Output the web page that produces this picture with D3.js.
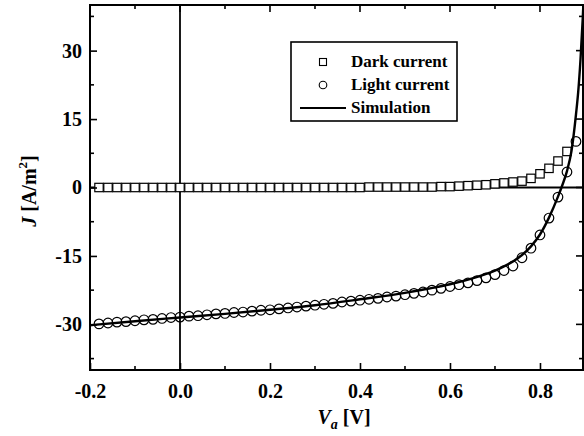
<!DOCTYPE html>
<html>
<head>
<meta charset="utf-8">
<script src="https://cdn.jsdelivr.net/npm/d3@7/dist/d3.min.js"></script>
<style>
  body { margin: 0; background: #fff; }
  text { font-family: "Liberation Serif", "Times New Roman", serif; font-weight: bold; fill: #000; }
</style>
</head>
<body>
<div id="chart"></div>
<script>
const width = 584;
const height = 436;
const margin = { top: 5, right: 1, bottom: 66, left: 90 };

// measured points, 0.02 V apart
const darkV = [-0.18, -0.16, -0.14, -0.12, -0.10, -0.08, -0.06, -0.04, -0.02, 0.00,
  0.02, 0.04, 0.06, 0.08, 0.10, 0.12, 0.14, 0.16, 0.18, 0.20,
  0.22, 0.24, 0.26, 0.28, 0.30, 0.32, 0.34, 0.36, 0.38, 0.40,
  0.42, 0.44, 0.46, 0.48, 0.50, 0.52, 0.54, 0.56, 0.58, 0.60,
  0.62, 0.64, 0.66, 0.68, 0.70, 0.72, 0.74, 0.76, 0.78, 0.80,
  0.82, 0.84, 0.86];
const darkJ = [0, 0, 0, 0, 0, 0, 0, 0, 0, 0,
  0, 0, 0, 0, 0, 0, 0, 0, 0, 0,
  0, 0, 0, 0, 0, 0, 0, 0, 0, 0,
  0.1, 0.1, 0.1, 0.1, 0.1, 0.1, 0.1, 0.1, 0.2, 0.2,
  0.3, 0.4, 0.5, 0.6, 0.8, 1.0, 1.2, 1.4, 2.0, 3.0,
  4.2, 5.8, 7.9];

const lightV = [-0.18, -0.16, -0.14, -0.12, -0.10, -0.08, -0.06, -0.04, -0.02, 0.00,
  0.02, 0.04, 0.06, 0.08, 0.10, 0.12, 0.14, 0.16, 0.18, 0.20,
  0.22, 0.24, 0.26, 0.28, 0.30, 0.32, 0.34, 0.36, 0.38, 0.40,
  0.42, 0.44, 0.46, 0.48, 0.50, 0.52, 0.54, 0.56, 0.58, 0.60,
  0.62, 0.64, 0.66, 0.68, 0.70, 0.72, 0.74, 0.76, 0.78, 0.80,
  0.82, 0.84, 0.86, 0.88];
const lightJ = [-29.9, -29.7, -29.5, -29.4, -29.2, -29.0, -28.9, -28.7, -28.5, -28.4,
  -28.2, -28.1, -27.9, -27.7, -27.6, -27.4, -27.3, -27.1, -26.9, -26.8,
  -26.6, -26.4, -26.2, -26.0, -25.8, -25.6, -25.4, -25.1, -24.9, -24.7,
  -24.5, -24.3, -24.0, -23.8, -23.5, -23.2, -22.9, -22.5, -22.1, -21.7,
  -21.3, -20.9, -20.4, -19.8, -19.1, -18.2, -17.2, -15.4, -13.3, -10.4,
  -6.7, -2.1, 3.4, 10.1];

const simV = [-0.2, -0.1, 0, 0.1, 0.2, 0.3, 0.4, 0.5, 0.55, 0.6, 0.65, 0.7, 0.72, 0.74,
  0.76, 0.78, 0.8, 0.82, 0.84, 0.85, 0.86, 0.87, 0.88, 0.885, 0.89, 0.895, 0.9];
const simJ = [-30.2, -29.3, -28.5, -27.7, -26.8, -25.8, -24.5, -23.1, -22.2, -21.2, -19.9, -18.2, -17.3, -16.2,
  -14.8, -12.9, -10.3, -6.6, -2.0, 0.6, 3.6, 8.0, 16.0, 21.0, 28.0, 37.0, 48.0];

const xTicks = [-0.2, 0.0, 0.2, 0.4, 0.6, 0.8];
const xMinor = [-0.1, 0.1, 0.3, 0.5, 0.7];
const yTicks = [-30, -15, 0, 15, 30];
const yMinor = [-37.5, -22.5, -7.5, 7.5, 22.5, 37.5];

const legendItems = ["Dark current", "Light current", "Simulation"];

const svg = d3.select("#chart")
  .append("svg")
  .attr("width", width)
  .attr("height", height);

const x = d3.scaleLinear()
  .domain([-0.2, 0.8956])
  .range([margin.left, width - margin.right]);

const y = d3.scaleLinear()
  .domain([-40, 40])
  .range([height - margin.bottom, margin.top]);

svg.append("defs").append("clipPath")
  .attr("id", "plot-clip")
  .append("rect")
  .attr("x", margin.left)
  .attr("y", margin.top)
  .attr("width", width - margin.left - margin.right)
  .attr("height", height - margin.top - margin.bottom);

const plot = svg.append("g").attr("clip-path", "url(#plot-clip)");

// zero lines
plot.append("line")
  .attr("x1", x.range()[0]).attr("x2", x.range()[1])
  .attr("y1", y(0)).attr("y2", y(0))
  .attr("stroke", "#000").attr("stroke-width", 1.8);

plot.append("line")
  .attr("x1", x(0)).attr("x2", x(0))
  .attr("y1", y.range()[0]).attr("y2", y.range()[1])
  .attr("stroke", "#000").attr("stroke-width", 1.8);

// dark current squares
const sq = 8.4;
plot.selectAll(".dark")
  .data(darkV.map((v, i) => [v, darkJ[i]]))
  .join("rect")
  .attr("class", "dark")
  .attr("x", d => x(d[0]) - sq / 2)
  .attr("y", d => y(d[1]) - sq / 2)
  .attr("width", sq)
  .attr("height", sq)
  .attr("fill", "#fff")
  .attr("stroke", "#000")
  .attr("stroke-width", 1.2);

// simulation
const line = d3.line()
  .x(d => x(d[0]))
  .y(d => y(d[1]))
  .curve(d3.curveMonotoneX);

plot.append("path")
  .datum(simV.map((v, i) => [v, simJ[i]]))
  .attr("d", line)
  .attr("fill", "none")
  .attr("stroke", "#000")
  .attr("stroke-width", 2.4);

// light current circles
plot.selectAll(".light")
  .data(lightV.map((v, i) => [v, lightJ[i]]))
  .join("circle")
  .attr("class", "light")
  .attr("cx", d => x(d[0]))
  .attr("cy", d => y(d[1]))
  .attr("r", 4.8)
  .attr("fill", "none")
  .attr("stroke", "#000")
  .attr("stroke-width", 1.2);

// frame
svg.append("rect")
  .attr("x", margin.left)
  .attr("y", margin.top)
  .attr("width", width - margin.left - margin.right)
  .attr("height", height - margin.top - margin.bottom)
  .attr("fill", "none")
  .attr("stroke", "#000")
  .attr("stroke-width", 2);

// axes, ticks pointing inward
const xAxis = d3.axisBottom(x).tickValues(xTicks).tickFormat(d => d.toFixed(1)).tickSizeInner(-7).tickSizeOuter(0).tickPadding(14);
const gx = svg.append("g")
  .attr("transform", `translate(0,${height - margin.bottom})`)
  .call(xAxis);
gx.select(".domain").remove();

const yAxis = d3.axisLeft(y).tickValues(yTicks).tickFormat(d => String(d)).tickSizeInner(-7).tickSizeOuter(0).tickPadding(8);
const gy = svg.append("g")
  .attr("transform", `translate(${margin.left},0)`)
  .call(yAxis);
gy.select(".domain").remove();

[gx, gy].forEach(g => {
  g.selectAll("text").style("font-size", "20px").attr("font-family", null);
  g.selectAll("line").attr("stroke-width", 1.6);
});

// minor and mirrored ticks
const tickLines = svg.append("g").attr("stroke", "#000").attr("stroke-width", 1.6);
tickLines.selectAll(".xminor")
  .data(xMinor)
  .join("line")
  .attr("x1", d => x(d)).attr("x2", d => x(d))
  .attr("y1", y.range()[0]).attr("y2", y.range()[0] - 4);
tickLines.selectAll(".xtop")
  .data(xTicks.concat(xMinor))
  .join("line")
  .attr("x1", d => x(d)).attr("x2", d => x(d))
  .attr("y1", y.range()[1]).attr("y2", d => y.range()[1] + (xTicks.includes(d) ? 7 : 4));
tickLines.selectAll(".yminor")
  .data(yMinor)
  .join("line")
  .attr("x1", x.range()[0]).attr("x2", x.range()[0] + 4)
  .attr("y1", d => y(d)).attr("y2", d => y(d));
tickLines.selectAll(".yright")
  .data(yTicks.concat(yMinor))
  .join("line")
  .attr("x1", x.range()[1]).attr("x2", d => x.range()[1] - (yTicks.includes(d) ? 7 : 4))
  .attr("y1", d => y(d)).attr("y2", d => y(d));

// axis titles
const xTitle = svg.append("text")
  .attr("x", 344)
  .attr("y", 424)
  .attr("text-anchor", "middle")
  .style("font-size", "20px");
xTitle.append("tspan").attr("font-style", "italic").text("V");
xTitle.append("tspan").attr("font-style", "italic").attr("dy", 5).style("font-size", "14px").text("a");
xTitle.append("tspan").attr("dy", -5).text(" [V]");

const yTitle = svg.append("text")
  .attr("transform", "translate(36,191) rotate(-90)")
  .attr("text-anchor", "middle")
  .style("font-size", "20px");
yTitle.append("tspan").attr("font-style", "italic").text("J");
yTitle.append("tspan").text(" [A/m");
yTitle.append("tspan").attr("dy", -9).style("font-size", "13px").text("2");
yTitle.append("tspan").attr("dy", 9).text("]");

// legend
const legend = svg.append("g");
legend.append("rect")
  .attr("x", 291).attr("y", 42)
  .attr("width", 166).attr("height", 79)
  .attr("fill", "#fff")
  .attr("stroke", "#000")
  .attr("stroke-width", 1.6);

const rowY = [62, 85, 108];
legend.append("rect")
  .attr("x", 323 - 3.5).attr("y", rowY[0] - 3.5)
  .attr("width", 7).attr("height", 7)
  .attr("fill", "#fff").attr("stroke", "#000").attr("stroke-width", 1.1);
legend.append("circle")
  .attr("cx", 323).attr("cy", rowY[1]).attr("r", 3.8)
  .attr("fill", "none").attr("stroke", "#000").attr("stroke-width", 1.1);
legend.append("line")
  .attr("x1", 300).attr("x2", 346)
  .attr("y1", rowY[2]).attr("y2", rowY[2])
  .attr("stroke", "#000").attr("stroke-width", 2.2);

legend.selectAll(".ltext")
  .data(legendItems)
  .join("text")
  .attr("x", 351)
  .attr("y", (d, i) => rowY[i] + 5)
  .style("font-size", "17px")
  .text(d => d);
</script>
</body>
</html>
